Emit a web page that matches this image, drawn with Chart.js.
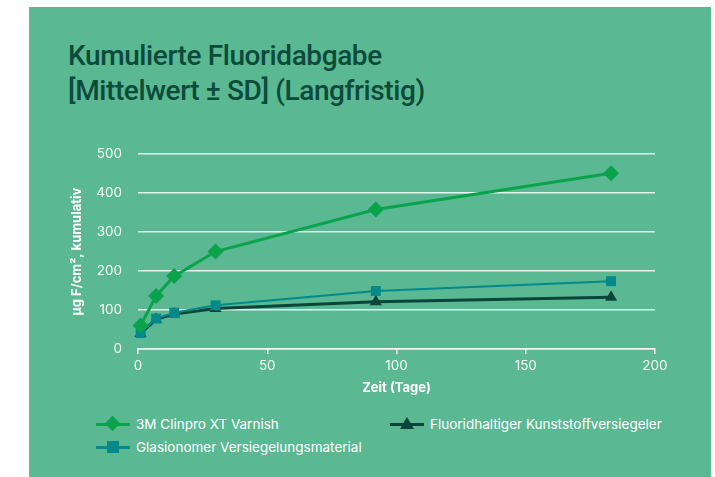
<!DOCTYPE html>
<html>
<head>
<meta charset="utf-8">
<script src="https://cdn.jsdelivr.net/npm/chart.js@4/dist/chart.umd.min.js"></script>
<style>
  body { margin: 0; background: #fff; width: 715px; height: 477px; overflow: hidden; }
  #panel { position: absolute; left: 29px; top: 7px; width: 682px; height: 470px; background: #5ab892; }
  #title { position: absolute; left: 39px; top: 31px; font-family: Roboto, sans-serif; font-weight: 500; font-size: 28px; line-height: 35px; color: #0c4a3a; letter-spacing: -0.4px; }
  #chart { position: absolute; left: 0; top: 123px; }
  .leg { position: absolute; font-family: Inter, Roboto, sans-serif; font-size: 13.5px; color: #fff; height: 16px; line-height: 16px; }
  .leg .ln { position: absolute; left: 0; top: 7px; width: 34px; height: 3px; }
  .leg .mk { position: absolute; }
  .leg .tx { position: absolute; left: 40px; top: 0; white-space: nowrap; }
</style>
</head>
<body>
<div id="panel">
  <div id="title">Kumulierte Fluoridabgabe<br>[Mittelwert ± SD] (Langfristig)</div>
  <canvas id="chart" width="682" height="270"></canvas>
  <div id="legend"></div>
</div>
<script>
// Tage
var days = [1, 7, 14, 30, 92, 183];
// µg F/cm², kumulativ
var clinpro = [60, 136, 187, 250, 358, 451];
var glasionomer = [41, 78, 93, 112, 149, 174];
var kunststoff = [40, 76, 90, 104, 121, 133];

var seriesNames = ["3M Clinpro XT Varnish", "Glasionomer Versiegelungsmaterial", "Fluoridhaltiger Kunststoffversiegeler"];
var seriesColors = ["#0aa34b", "#05898a", "#0b4539"];
var xTicks = [0, 50, 100, 150, 200];
var yTicks = [0, 100, 200, 300, 400, 500];

function toPoints(values) {
  return values.map(function(v, i) { return {x: days[i], y: v}; });
}

var chartData = {
  datasets: [{
    label: seriesNames[0],
    data: toPoints(clinpro),
    borderColor: seriesColors[0],
    backgroundColor: seriesColors[0],
    borderWidth: 3,
    pointStyle: "rectRot",
    pointRadius: 8,
    pointBorderWidth: 0,
    clip: false
  }, {
    label: seriesNames[1],
    data: toPoints(glasionomer),
    borderColor: seriesColors[1],
    backgroundColor: seriesColors[1],
    borderWidth: 2,
    pointStyle: "rect",
    pointRadius: 7,
    pointBorderWidth: 0,
    clip: false
  }, {
    label: seriesNames[2],
    data: toPoints(kunststoff),
    borderColor: seriesColors[2],
    backgroundColor: seriesColors[2],
    borderWidth: 3,
    pointStyle: "triangle",
    pointRadius: 7,
    pointBorderWidth: 0,
    clip: false
  }]
};

var tickFont = {family: "Inter, Roboto, sans-serif", size: 13.5};
var titleFont = {family: "Inter, Roboto, sans-serif", size: 13, weight: "bold"};

var chart = new Chart(document.getElementById("chart").getContext("2d"), {
  type: "line",
  data: chartData,
  options: {
    responsive: false,
    animation: false,
    layout: {padding: {left: 0, right: 56, top: 17, bottom: 0}},
    plugins: {legend: {display: false}, tooltip: {enabled: false}},
    scales: {
      x: {
        type: "linear",
        min: 0,
        max: 200,
        afterBuildTicks: function(scale) { scale.ticks = xTicks.map(function(v) { return {value: v}; }); },
        afterFit: function(scale) { scale.height = 51; },
        ticks: {color: "#f4faf6", font: tickFont, padding: 4},
        grid: {drawOnChartArea: false, drawTicks: true, tickLength: 5, color: "#f4faf6", lineWidth: 1.5},
        border: {display: true, color: "#f4faf6", width: 1.5},
        title: {display: true, text: "Zeit (Tage)", color: "#ffffff", font: titleFont, padding: {top: 2, bottom: 4}}
      },
      y: {
        min: 0,
        max: 500,
        afterBuildTicks: function(scale) { scale.ticks = yTicks.map(function(v) { return {value: v}; }); },
        afterFit: function(scale) { scale.width = 109; },
        ticks: {color: "#f4faf6", font: tickFont, padding: 16},
        grid: {drawTicks: false, color: "rgba(255,255,255,0.85)", lineWidth: 1.5},
        border: {display: false},
        title: {display: true, text: "µg F/cm², kumulativ", color: "#ffffff", font: titleFont, padding: {top: 40, bottom: 0}}
      }
    }
  }
});

// legend in zwei Spalten wie im Original
var legendPos = [[67, 409], [67, 432], [361, 409]];
var legendHtml = "";
chartData.datasets.forEach(function(ds, i) {
  var mk = "";
  if (ds.pointStyle == "rectRot") {
    mk = '<div class="mk" style="left:11px;top:2px;width:11px;height:11px;background:' + ds.borderColor + ';transform:rotate(45deg)"></div>';
  } else if (ds.pointStyle == "rect") {
    mk = '<div class="mk" style="left:11px;top:2px;width:12px;height:12px;background:' + ds.borderColor + '"></div>';
  } else {
    mk = '<div class="mk" style="left:10px;top:1px;width:0;height:0;border-left:7px solid transparent;border-right:7px solid transparent;border-bottom:12px solid ' + ds.borderColor + '"></div>';
  }
  legendHtml += '<div class="leg" style="left:' + legendPos[i][0] + 'px;top:' + legendPos[i][1] + 'px">' +
    '<div class="ln" style="background:' + ds.borderColor + '"></div>' + mk +
    '<div class="tx">' + ds.label + '</div></div>';
});
document.getElementById("legend").innerHTML = legendHtml;
</script>
</body>
</html>
